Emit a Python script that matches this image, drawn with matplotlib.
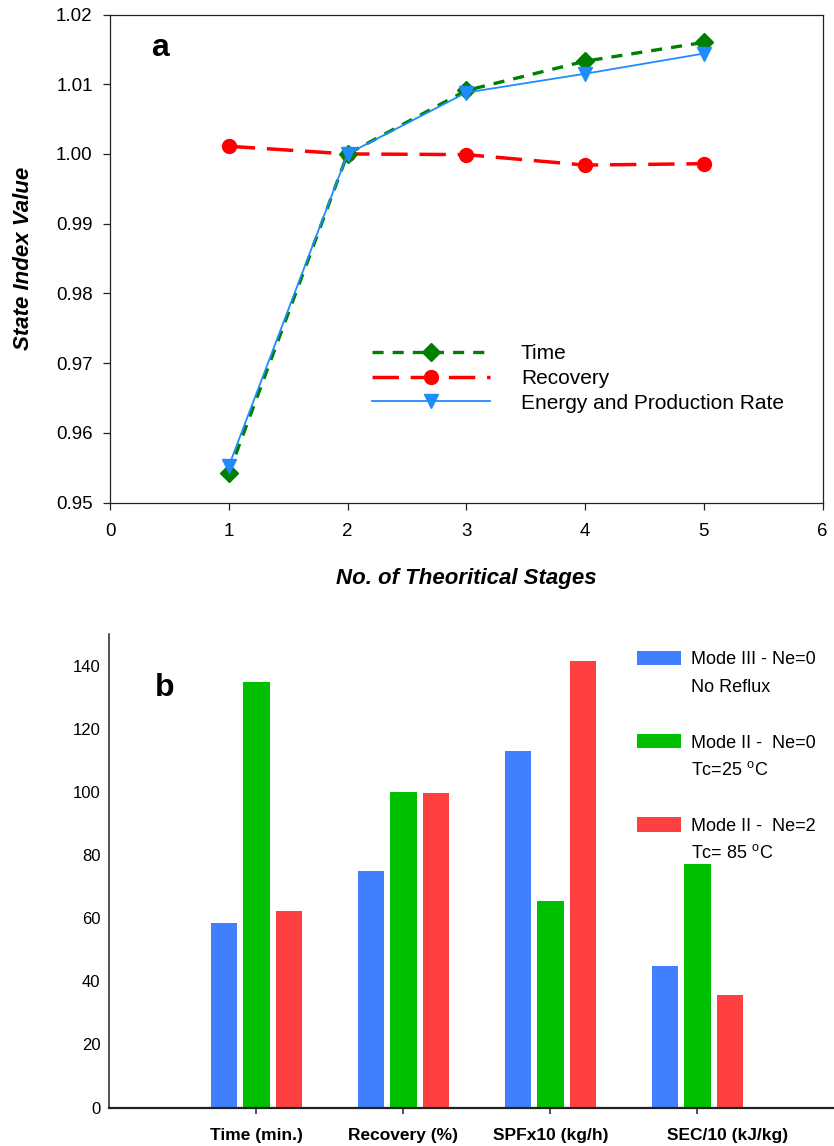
import matplotlib
matplotlib.use("Agg")
import matplotlib.pyplot as plt
import matplotlib.transforms as mtransforms
from matplotlib.patches import Patch
import numpy as np

plt.rcParams['font.family'] = ['Liberation Sans', 'DejaVu Sans']
plt.rcParams['mathtext.fontset'] = 'custom'
plt.rcParams['mathtext.rm'] = 'Liberation Sans'
plt.rcParams['lines.scale_dashes'] = False

# ---- panel a: state index vs number of theoretical stages ----
stages = [1, 2, 3, 4, 5]
time_index = [0.9542, 1.0000, 1.0091, 1.0133, 1.0160]
recovery_index = [1.0011, 1.0000, 0.9999, 0.9984, 0.9986]
energy_index = [0.9552, 1.0000, 1.0088, 1.0115, 1.0144]
series_names = ["Time", "Recovery", "Energy and Production Rate"]

# ---- panel b: comparison of operating modes ----
categories = ["Time (min.)", "Recovery (%)", "SPFx10 (kg/h)", "SEC/10 (kJ/kg)"]
mode3_ne0 = [58.4, 74.8, 113.0, 44.7]
mode2_ne0 = [134.9, 100.1, 65.5, 77.2]
mode2_ne2 = [62.3, 99.7, 141.5, 35.7]
mode_names = ["Mode III - Ne=0", "Mode II -  Ne=0", "Mode II -  Ne=2"]
mode_notes = ["No Reflux", r"Tc=25 $^\mathregular{o}$C", r"Tc= 85 $^\mathregular{o}$C"]

W, H = 834, 1146
fig = plt.figure(figsize=(W / 100, H / 100), dpi=100)

# ---------------- panel a ----------------
ax1 = fig.add_axes([110 / W, 1 - 502.5 / H, 712.5 / W, 488 / H])
ax1.plot(stages, recovery_index, color='#ff0000', lw=2.5, dashes=(19, 8.5),
         marker='o', ms=10, label=series_names[1], zorder=3)
ax1.plot(stages, time_index, color='#008000', lw=2.4, dashes=(8, 6.5),
         marker='D', ms=9.5, label=series_names[0], zorder=4)
ax1.plot(stages, energy_index, color='#1e8cff', lw=1.3,
         marker='v', ms=10, label=series_names[2], zorder=5)

ax1.set_xlim(0, 6)
ax1.set_ylim(0.95, 1.02)
ax1.set_xticks(range(0, 7))
ax1.set_yticks(np.arange(0.95, 1.0201, 0.01))
ax1.yaxis.set_major_formatter(matplotlib.ticker.FormatStrFormatter('%.2f'))
ax1.tick_params(axis='both', direction='out', length=5, width=0.9,
                labelsize=13.5, color='#222222')
ax1.tick_params(axis='y', pad=7.5)
ax1.tick_params(axis='x', pad=10)
for s in ax1.spines.values():
    s.set_linewidth(0.9)
    s.set_color('#222222')

ax1.set_ylabel("State Index Value", fontsize=16, fontweight='bold', style='italic')
ax1.yaxis.set_label_coords(-0.106, 0.5)
ax1.set_xlabel("No. of Theoritical Stages", fontsize=16, fontweight='bold', style='italic')
ax1.xaxis.set_label_coords(0.5, -0.134)
ax1.text(0.070, 0.932, "a", transform=ax1.transAxes, fontsize=23,
         fontweight='bold', ha='center', va='center')

h, l = ax1.get_legend_handles_labels()
order = [1, 0, 2]
ax1.legend([h[i] for i in order], [l[i] for i in order],
           loc='upper left', bbox_to_anchor=((372 - 110) / 712.5, (502.5 - 344) / 488),
           frameon=False, fontsize=15, handlelength=5.65, handletextpad=1.5,
           labelspacing=0.28, borderpad=0, borderaxespad=0, numpoints=1)

# ---------------- panel b ----------------
ax2 = fig.add_axes([109.5 / W, 1 - 1107.5 / H, 735 / W, 473.5 / H])
x = np.arange(1, len(categories) + 1)
bw = 0.177
step = 0.218
colors = ['#4080ff', '#00c000', '#ff4040']
for k, (vals, c) in enumerate(zip([mode3_ne0, mode2_ne0, mode2_ne2], colors)):
    ax2.bar(x + (k - 1) * step, vals, width=bw, color=c, edgecolor='none', zorder=2)

ax2.set_xlim(0, 5)
ax2.set_ylim(0, 150)
ax2.set_yticks(range(0, 141, 20))
ax2.set_xticks(x)
ax2.set_xticklabels(categories, fontsize=12.5, fontweight='bold')
ax2.tick_params(axis='y', length=0, pad=6.5, labelsize=12)
ax2.tick_params(axis='x', direction='out', length=4.5, width=1.2, pad=10, color='#333333')
ax2.spines['top'].set_visible(False)
ax2.spines['right'].set_visible(False)
ax2.spines['left'].set_linewidth(1.1)
ax2.spines['bottom'].set_linewidth(1.6)
for s in ax2.spines.values():
    s.set_color('#222222')

# last category label sits a little to the right of its tick
lbl = ax2.get_xticklabels()[-1]
lbl.set_transform(lbl.get_transform() + mtransforms.ScaledTranslation(0.30, 0, fig.dpi_scale_trans))

ax2.text(0.075, 0.886, "b", transform=ax2.transAxes, fontsize=23,
         fontweight='bold', ha='center', va='center')

handles = [Patch(facecolor=c, edgecolor='none') for c in colors]
leg = ax2.legend(handles, mode_names, loc='upper left',
                 bbox_to_anchor=((637 - 109.5) / 735, (1107.5 - 651) / 473.5),
                 frameon=False, fontsize=13, handlelength=2.44, handleheight=0.83,
                 handletextpad=0.55, labelspacing=3.65, borderpad=0, borderaxespad=0)
leg.set_zorder(5)
for txt, note in zip(leg.get_texts(), mode_notes):
    ax2.annotate(note, xy=(0, 0), xycoords=txt, xytext=(0, -17),
                 textcoords='offset points', fontsize=13, va='baseline', ha='left',
                 zorder=6)

fig.savefig("out.png", dpi=100)
